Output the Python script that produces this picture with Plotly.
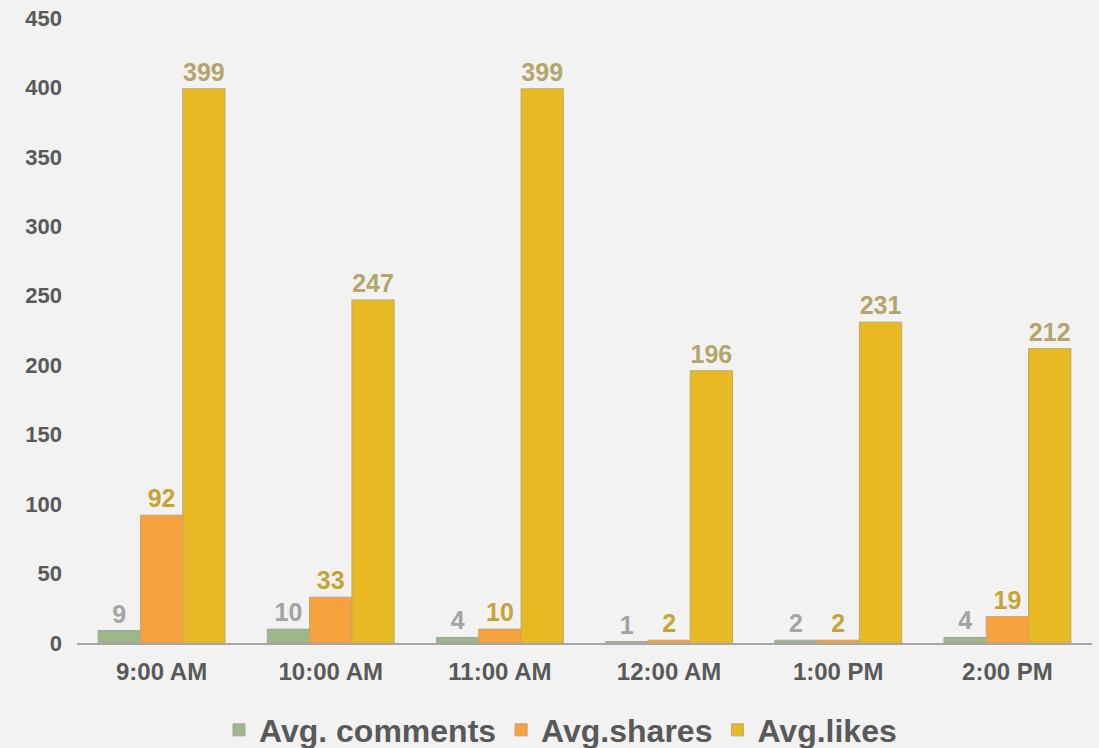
import plotly.graph_objects as go

# Posting time slots and average engagement per slot
times = ["9:00 AM", "10:00 AM", "11:00 AM", "12:00 AM", "1:00 PM", "2:00 PM"]
avg_comments = [9, 10, 4, 1, 2, 4]
avg_shares = [92, 33, 10, 2, 2, 19]
avg_likes = [399, 247, 399, 196, 231, 212]

series = [
    ("Avg. comments", avg_comments, "#9db68a", "#a3a89b", "#a3a3a3"),
    ("Avg.shares", avg_shares, "#f6a23e", "#c9a06a", "#c9a235"),
    ("Avg.likes", avg_likes, "#e7b923", "#c0aa6a", "#b6a56a"),
]

fig = go.Figure()
for name, vals, fill, edge, label_col in series:
    fig.add_trace(go.Bar(
        name=name,
        x=times,
        y=vals,
        marker=dict(color=fill, line=dict(color=edge, width=1)),
        text=[str(v) for v in vals],
        textposition="outside",
        textfont=dict(family="Liberation Sans", size=25, color=label_col, weight="bold"),
        cliponaxis=False,
    ))

fig.update_layout(
    width=1099,
    height=748,
    barmode="group",
    bargap=0.25,
    bargroupgap=0,
    paper_bgcolor="#f2f2f2",
    plot_bgcolor="#f2f2f2",
    margin=dict(l=77, r=7, t=18, b=105, autoexpand=False),
    font=dict(family="Liberation Sans", color="#595959"),
    showlegend=True,
    legend=dict(
        orientation="h",
        x=0.51,
        xref="container",
        xanchor="center",
        y=0.024,
        yref="container",
        yanchor="middle",
        font=dict(size=32, color="#595959", weight="bold"),
        itemwidth=30,
        traceorder="normal",
        bgcolor="rgba(0,0,0,0)",
    ),
)

fig.update_xaxes(
    showline=True,
    linecolor="#a6a6a6",
    linewidth=2,
    ticks="",
    ticklabelstandoff=6,
    tickfont=dict(size=24, color="#595959", weight="bold"),
    showgrid=False,
)
fig.update_yaxes(
    range=[0, 450],
    tickvals=[0, 50, 100, 150, 200, 250, 300, 350, 400, 450],
    showgrid=False,
    zeroline=False,
    showline=False,
    ticks="",
    ticklabelstandoff=14,
    tickfont=dict(size=22, color="#595959", weight="bold"),
)

fig.write_html("out.html")
